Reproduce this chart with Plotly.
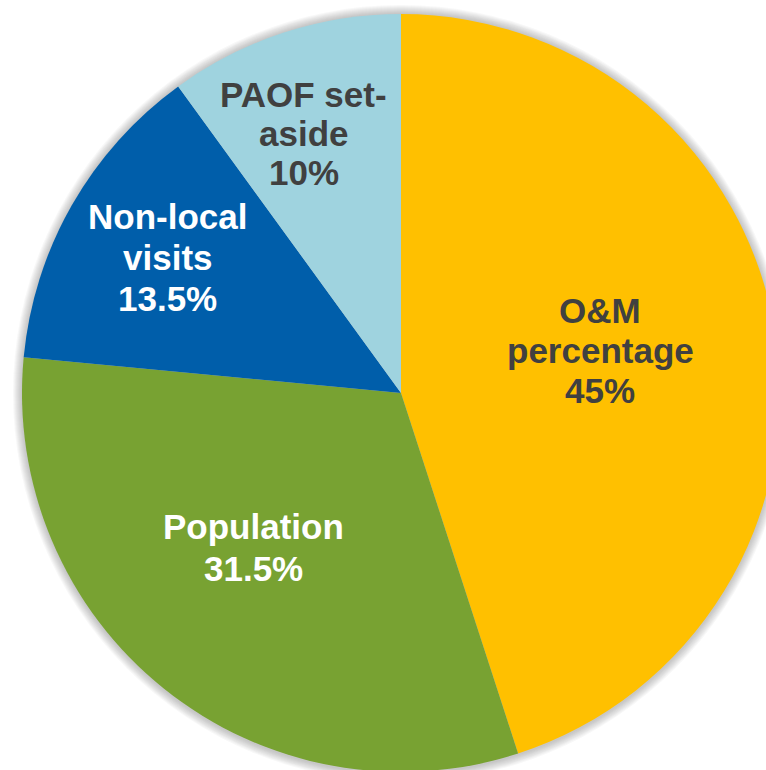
import plotly.graph_objects as go

# ---- data ----
categories = ["O&M percentage", "Population", "Non-local visits", "PAOF set-aside"]
values = [45, 31.5, 13.5, 10]
pct_labels = ["45%", "31.5%", "13.5%", "10%"]
label_lines = [["O&M", "percentage"], ["Population"], ["Non-local", "visits"], ["PAOF set-", "aside"]]
colors = ["#FFC000", "#78A232", "#005EAA", "#9FD3DF"]
text_colors = ["#404040", "#FFFFFF", "#FFFFFF", "#404040"]

# ---- layout geometry (pixels in 800x800 figure, page margin removed) ----
W, H = 800, 800
CX, CY, R = 401, 393, 379
PX0, PY0 = CX - R, CY - R          # plot-area top-left
SIZE = 2 * R
# label block anchors: centre x, first baseline y, line spacing
label_x = [600, 253.5, 167.5, 303.5]
label_y0 = [323, 539, 229, 107]
label_dy = [40, 42, 41, 39]
FONT_SIZE = 35


def to_paper(px, py):
    return (px - PX0) / SIZE, 1 - (py - PY0) / SIZE


fig = go.Figure(go.Pie(
    labels=categories,
    values=values,
    textinfo="none",
    marker=dict(colors=colors, line=dict(width=0)),
    sort=False,
    direction="clockwise",
    rotation=0,
    hoverinfo="label+percent",
    showlegend=False,
))

annotations = []
for i, lines in enumerate(label_lines):
    all_lines = lines + [pct_labels[i]]
    for j, line in enumerate(all_lines):
        baseline = label_y0[i] + j * label_dy[i]
        x, y = to_paper(label_x[i], baseline - 0.347 * FONT_SIZE)
        annotations.append(dict(
            x=x, y=y, xref="paper", yref="paper",
            xanchor="center", yanchor="middle",
            text=f"<b>{line}</b>", showarrow=False,
            font=dict(family="Liberation Sans, Arial, sans-serif", size=FONT_SIZE, color=text_colors[i]),
        ))

# soft shadow around the pie
shapes = []
for k in range(1, 10):
    rr = R + k
    x0, y1 = to_paper(CX - rr, CY - rr)
    x1, y0 = to_paper(CX + rr, CY + rr + 1)
    shapes.append(dict(
        type="circle", xref="paper", yref="paper",
        x0=x0, x1=x1, y0=y0, y1=y1,
        fillcolor="rgba(90,90,90,0.045)", line=dict(width=0), layer="below",
    ))

fig.update_layout(
    width=W, height=H,
    margin=dict(l=PX0, r=W - (PX0 + SIZE), t=PY0, b=H - (PY0 + SIZE)),
    paper_bgcolor="white",
    plot_bgcolor="white",
    annotations=annotations,
    shapes=shapes,
)
fig.write_html(
    "out.html",
    config={"displayModeBar": False},
    post_script="document.body.style.margin='0';document.body.style.overflow='hidden';",
)
